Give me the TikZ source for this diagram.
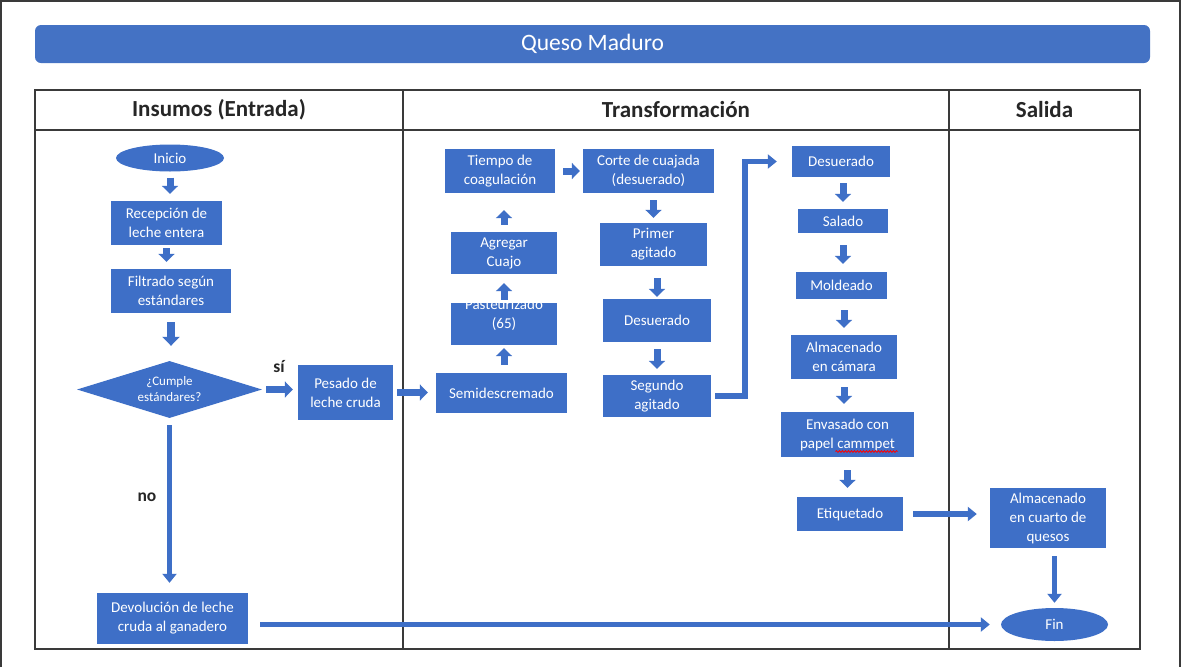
\documentclass[tikz,border=0pt]{standalone}
\usepackage{fontspec}
\setmainfont{Carlito}
\usetikzlibrary{shapes.geometric,arrows.meta,calc,decorations.pathmorphing}
\definecolor{boxblue}{HTML}{3E6FC7}
\definecolor{barblue}{HTML}{4472C4}
\definecolor{gridline}{HTML}{3A3A3A}

\begin{document}
\begin{tikzpicture}[x=1pt,y=-1pt,
  proc/.style={rectangle, fill=boxblue, text=white, align=center, inner sep=0pt,
    font=\fontsize{15}{19}\selectfont},
  term/.style={ellipse, fill=boxblue, text=white, inner sep=0pt,
    font=\fontsize{15}{18}\selectfont},
  dec/.style={diamond, aspect=3.25, fill=boxblue, text=white, align=center, inner sep=0pt,
    font=\fontsize{13}{16}\selectfont},
  blk/.style={draw=boxblue, line width=7pt, -{Triangle[width=16pt,length=8pt]}},
  lng/.style={draw=boxblue, line width=5.5pt, -{Triangle[width=14pt,length=9pt]}},
  lane/.style={font=\fontsize{23}{27}\selectfont\bfseries, text=black!85},
  lbl/.style={font=\fontsize{17.5}{20}\selectfont\bfseries, text=black!85},
  grid/.style={draw=gridline, line width=1.3pt},
]
\useasboundingbox (0,0) rectangle (1181,667);
\fill[white] (0,0) rectangle (1181,667);

% outer frame
\draw[gridline, line width=2.5pt] (1,667) -- (1,1) -- (1180,1) -- (1180,667);

% title bar
\node[fill=barblue, rounded corners=6pt, minimum width=1115pt, minimum height=38pt,
      text=white, font=\fontsize{23.5}{27}\selectfont] (title) at (592.5,44) {Queso Maduro};

% swimlane table
\draw[grid] (35,90) rectangle (1140,649);
\draw[grid] (35,130) -- (1140,130);
\draw[grid] (403,90) -- (403,649);
\draw[grid] (949,90) -- (949,649);
\node[lane] (h1) at (219,110) {Insumos (Entrada)};
\node[lane] (h2) at (676,110) {Transformación};
\node[lane] (h3) at (1044.5,110) {Salida};

% inputs lane
\node[term, minimum width=108pt, minimum height=27pt] (inicio) at (170,158) {Inicio};
\node[proc, minimum width=111pt, minimum height=44pt] (recep) at (166.5,223) {Recepción de\\leche entera};
\node[proc, minimum width=120pt, minimum height=44pt] (filt) at (171,291) {Filtrado según\\estándares};
\node[dec, minimum width=185pt, minimum height=57pt] (cumple) at (169.5,389.5) {¿Cumple\\estándares?};
\node[proc, minimum width=95pt, minimum height=55pt] (pesado) at (345.5,392.5) {Pesado de\\leche cruda};
\node[proc, minimum width=151pt, minimum height=51pt] (devol) at (172.5,618.5) {Devolución de leche\\cruda al ganadero};
\node[lbl] (si) at (279,367) {sí};
\node[lbl] (no) at (147,497) {no};

% transformation lane
\node[proc, minimum width=131pt, minimum height=40pt] (semi) at (501.5,393) {Semidescremado};
\node[proc, minimum width=106pt, minimum height=42pt] (past) at (504,324) {};
\node[text=white, align=center, inner sep=0pt, font=\fontsize{15}{19}\selectfont] (pasttxt) at (504,314.5) {Pasteurizado\\(65)};
\node[proc, minimum width=106pt, minimum height=42pt] (cuajo) at (504,253) {Agregar\\Cuajo};
\node[proc, minimum width=110pt, minimum height=44pt] (tiempo) at (500,171) {Tiempo de\\coagulación};
\node[proc, minimum width=131pt, minimum height=44pt] (corte) at (648.5,171) {Corte de cuajada\\(desuerado)};
\node[proc, minimum width=107pt, minimum height=43pt] (primer) at (653.5,244.5) {Primer\\agitado};
\node[proc, minimum width=108pt, minimum height=43pt] (desu1) at (657,320.5) {Desuerado};
\node[proc, minimum width=108pt, minimum height=42pt] (segundo) at (657,396) {Segundo\\agitado};
\node[proc, minimum width=98pt, minimum height=31pt] (desu2) at (841,161.5) {Desuerado};
\node[proc, minimum width=90pt, minimum height=24pt] (salado) at (843,221) {Salado};
\node[proc, minimum width=91pt, minimum height=27pt] (molde) at (841.5,285.5) {Moldeado};
\node[proc, minimum width=106pt, minimum height=44pt] (almcam) at (844,357) {Almacenado\\en cámara};
\node[proc, minimum width=133pt, minimum height=45pt] (envas) at (847.5,434.5) {Envasado con\\papel cammpet};
\node[proc, minimum width=106pt, minimum height=34pt] (etiq) at (850,514) {Etiquetado};

% output lane
\node[proc, minimum width=116pt, minimum height=60pt] (almq) at (1048,518) {Almacenado\\en cuarto de\\quesos};
\node[term, minimum width=107pt, minimum height=33pt] (fin) at (1054.5,624.5) {Fin};

% spell-check underline
\draw[red, line width=0.8pt, decorate, decoration={snake, amplitude=0.9pt, segment length=3pt}]
  ($(envas.center)+(-12,17)$) -- ($(envas.center)+(50,17)$);

% connectors
\draw[blk, shorten <=6pt, shorten >=7pt] (inicio.south) -- (inicio.south |- recep.north);
\draw[blk, shorten <=3pt, shorten >=7pt] (recep.south) -- (recep.south |- filt.north);
\draw[blk, line width=8pt, -{Triangle[width=17pt,length=9pt]}, shorten <=9pt, shorten >=15pt]
  (filt.south) -- (filt.south |- cumple.north);
\draw[lng, shorten <=7pt, shorten >=10pt] (cumple.south) -- (cumple.south |- devol.north);
\draw[blk, shorten <=4pt, shorten >=5pt] (cumple.east) -- (cumple.east -| pesado.west);
\draw[blk, shorten <=4pt, shorten >=8pt] (pesado.east) -- (pesado.east -| semi.west);
\draw[blk, shorten <=8pt, shorten >=3pt] (semi.north -| past.south) -- (past.south);
\draw[blk, shorten <=3pt, shorten >=9pt] (past.north) -- (past.north |- cuajo.south);
\draw[blk, shorten <=7pt, shorten >=17pt] (cuajo.north) -- (cuajo.north |- tiempo.south);
\draw[blk, shorten <=8pt, shorten >=3pt] (tiempo.east) -- (tiempo.east -| corte.west);
\draw[blk, shorten <=7pt, shorten >=5pt] (primer.north |- corte.south) -- (primer.north);
\draw[blk, shorten <=12pt, shorten >=2pt] (desu1.north |- primer.south) -- (desu1.north);
\draw[blk, shorten <=7pt, shorten >=6pt] (desu1.south) -- (segundo.north);
\draw[lng, shorten <=4pt, shorten >=15pt] (segundo.east) -- ++(34,0) |- (desu2.west);
\draw[blk, shorten <=6pt, shorten >=7pt] (salado.north |- desu2.south) -- (salado.north);
\draw[blk, shorten <=12pt, shorten >=8pt] (salado.south) -- (salado.south |- molde.north);
\draw[blk, shorten <=11pt, shorten >=7pt] (almcam.north |- molde.south) -- (almcam.north);
\draw[blk, shorten <=8pt, shorten >=8pt] (almcam.south) -- (almcam.south |- envas.north);
\draw[blk, shorten <=13pt, shorten >=9pt] (envas.south) -- (envas.south |- etiq.north);
\draw[lng, shorten <=10pt, shorten >=13pt] (etiq.east) -- (etiq.east -| almq.west);
\draw[lng, shorten <=8pt, shorten >=5pt] (fin.north |- almq.south) -- (fin.north);
\draw[lng, shorten <=12pt, shorten >=11pt] (devol.east |- fin.west) -- (fin.west);
\end{tikzpicture}
\end{document}
